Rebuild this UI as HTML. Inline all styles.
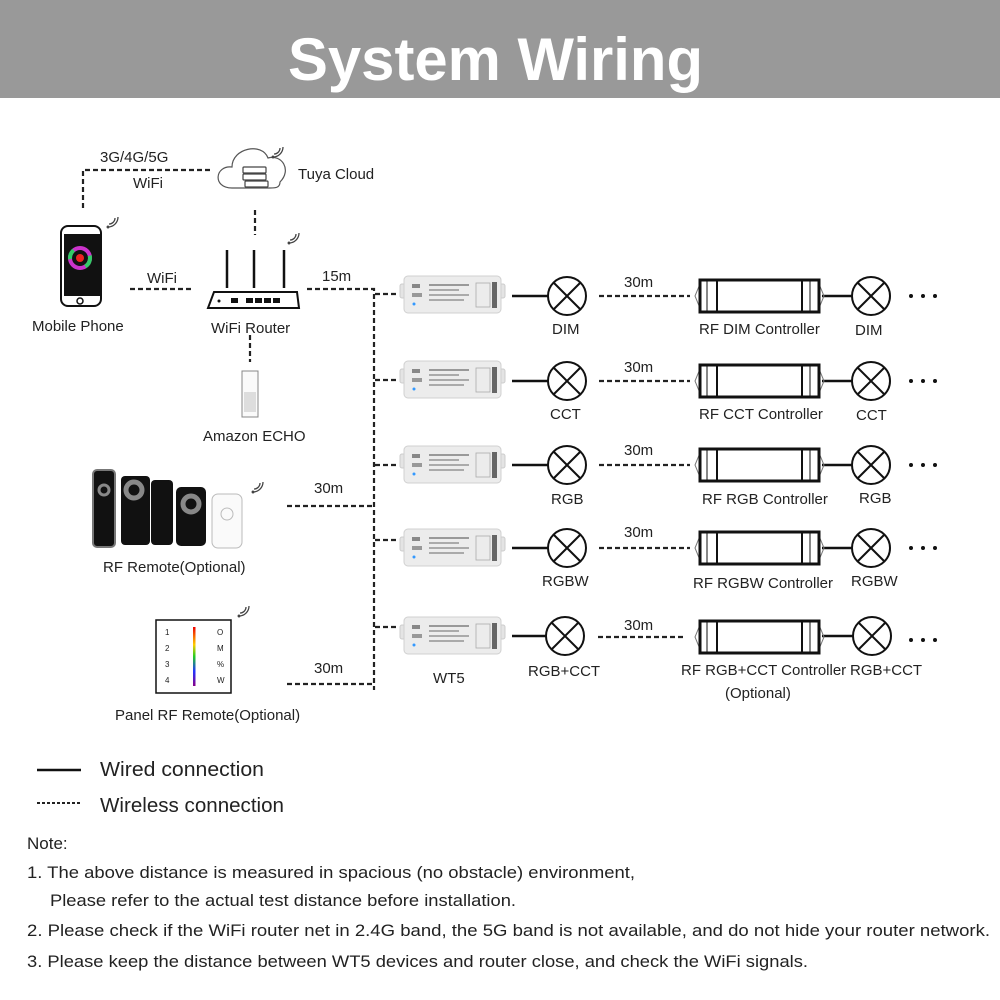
<!DOCTYPE html>
<html><head><meta charset="utf-8"><style>
html,body{margin:0;padding:0;background:#fff}
svg{display:block}
text{font-family:"Liberation Sans",sans-serif;fill:#222}
</style></head><body>
<svg width="1000" height="1000" viewBox="0 0 1000 1000" xmlns="http://www.w3.org/2000/svg">
<defs>
<g id="wt5">
 <rect x="-4" y="8" width="8" height="14" rx="2" fill="#e4e4e4" stroke="#ccc"/>
 <rect x="93" y="8" width="8" height="14" rx="2" fill="#e4e4e4" stroke="#ccc"/>
 <rect x="0" y="0" width="97" height="37" rx="4" fill="#ececec" stroke="#d0d0d0"/>
 <rect x="25" y="8" width="40" height="2" fill="#999"/>
 <rect x="25" y="13" width="30" height="2" fill="#aaa"/>
 <rect x="25" y="18" width="40" height="2" fill="#aaa"/>
 <rect x="25" y="23" width="35" height="2" fill="#aaa"/>
 <rect x="8" y="8" width="8" height="4" fill="#888"/>
 <rect x="8" y="17" width="10" height="4" fill="#999"/>
 <circle cx="10" cy="28" r="1.5" fill="#39f"/>
 <rect x="72" y="7" width="14" height="24" fill="none" stroke="#aaa" stroke-width="0.8"/>
 <rect x="88" y="6" width="5" height="26" fill="#666"/>
</g>
<g id="lamp" fill="none" stroke="#111" stroke-width="2">
 <circle cx="0" cy="0" r="19" fill="#fff"/>
 <line x1="-13" y1="-13" x2="13" y2="13"/><line x1="-13" y1="13" x2="13" y2="-13"/>
</g>
<g id="rfc" fill="none" stroke="#111">
 <path d="M5 0 H120 L127 17 L120 34 H5 L-2 17 Z" stroke-width="1" stroke="#777"/>
 <rect x="3" y="1" width="119" height="32" stroke-width="3"/>
 <line x1="20" y1="1" x2="20" y2="33" stroke-width="2"/>
 <line x1="105" y1="1" x2="105" y2="33" stroke-width="2"/>
 <line x1="10" y1="1" x2="10" y2="33" stroke-width="1"/>
 <line x1="113" y1="1" x2="113" y2="33" stroke-width="1"/>
</g>
<g id="dots" fill="#111"><circle cx="0" cy="0" r="2"/><circle cx="12" cy="0" r="2"/><circle cx="24" cy="0" r="2"/></g>
<g id="sig" fill="none" stroke="#444" stroke-width="1.3"><path d="M0 6 A6 6 0 0 0 6 0"/><path d="M-1 9 A10 10 0 0 0 9 -1"/><circle cx="-1" cy="9" r="0.8" fill="#444"/></g>
</defs>

<rect x="0" y="0" width="1000" height="98" fill="#999"/>
<text x="288" y="80" font-size="60" font-weight="bold" style="fill:#fff" textLength="415" lengthAdjust="spacingAndGlyphs">System Wiring</text>

<g stroke="#222" stroke-width="2.2" stroke-dasharray="5,3" fill="none">
 <path d="M83 208 V170 H212"/>
 <line x1="255" y1="210" x2="255" y2="235"/>
 <line x1="130" y1="289" x2="193" y2="289"/>
 <line x1="250" y1="335" x2="250" y2="362"/>
 <path d="M307 289 H374 V690"/>
 <line x1="375" y1="294" x2="398" y2="294"/>
 <line x1="375" y1="380" x2="398" y2="380"/>
 <line x1="375" y1="465" x2="398" y2="465"/>
 <line x1="375" y1="540" x2="398" y2="540"/>
 <line x1="375" y1="627" x2="398" y2="627"/>
 <line x1="287" y1="506" x2="374" y2="506"/>
 <line x1="287" y1="684" x2="374" y2="684"/>
</g>

<text x="100" y="162" font-size="15">3G/4G/5G</text>
<text x="133" y="188" font-size="15">WiFi</text>
<text x="298" y="179" font-size="15">Tuya Cloud</text>
<text x="147" y="283" font-size="15">WiFi</text>
<text x="322" y="281" font-size="15">15m</text>
<text x="32" y="331" font-size="15">Mobile Phone</text>
<text x="211" y="333" font-size="15">WiFi Router</text>
<text x="203" y="441" font-size="15">Amazon ECHO</text>
<text x="103" y="572" font-size="15">RF Remote(Optional)</text>
<text x="115" y="720" font-size="15">Panel RF Remote(Optional)</text>
<text x="314" y="493" font-size="15">30m</text>
<text x="314" y="673" font-size="15">30m</text>

<!-- cloud -->
<path d="M232 188 C212 188 215 165 232 167 C232 148 262 142 268 158 C282 154 292 170 280 182 C280 188 275 188 270 188 Z" fill="none" stroke="#555" stroke-width="1.2"/>
<g fill="#fff" stroke="#444" stroke-width="1.2">
<rect x="243" y="167" width="23" height="6" rx="1"/><rect x="243" y="174" width="23" height="6" rx="1"/><rect x="245" y="181" width="23" height="6" rx="1"/>
</g>
<use href="#sig" x="274" y="148"/>

<!-- phone -->
<rect x="61" y="226" width="40" height="80" rx="7" fill="#fff" stroke="#111" stroke-width="2"/>
<rect x="64" y="234" width="36" height="62" fill="#111"/>
<circle cx="80" cy="258" r="10" fill="none" stroke="#c3c" stroke-width="4"/>
<circle cx="80" cy="258" r="10" fill="none" stroke="#3c6" stroke-width="4" stroke-dasharray="10,20"/>
<circle cx="80" cy="258" r="4" fill="#e22"/>
<circle cx="80" cy="301" r="3" fill="none" stroke="#111" stroke-width="1.5"/>
<use href="#sig" x="109" y="218"/>

<!-- router -->
<g stroke="#111" stroke-width="2.5" fill="none">
 <line x1="227" y1="250" x2="227" y2="288"/><line x1="254" y1="250" x2="254" y2="288"/><line x1="284" y1="250" x2="284" y2="288"/>
</g>
<path d="M214 292 L297 292 L299 308 H208 Z" fill="#fff" stroke="#111" stroke-width="2"/>
<g fill="#111"><circle cx="219" cy="301" r="1.5"/><rect x="231" y="298" width="7" height="5"/><rect x="246" y="298" width="7" height="5"/><rect x="255" y="298" width="7" height="5"/><rect x="264" y="298" width="7" height="5"/><rect x="273" y="298" width="7" height="5"/></g>
<use href="#sig" x="290" y="234"/>

<!-- echo -->
<rect x="242" y="371" width="16" height="46" fill="#fafafa" stroke="#888"/>
<rect x="244" y="392" width="12" height="20" fill="#ddd"/>

<!-- remotes -->
<rect x="93" y="470" width="22" height="77" rx="4" fill="#111" stroke="#777" stroke-width="2"/>
<circle cx="104" cy="490" r="5" fill="none" stroke="#888" stroke-width="3"/>
<rect x="121" y="476" width="29" height="69" rx="4" fill="#111"/>
<circle cx="134" cy="490" r="8" fill="none" stroke="#888" stroke-width="5"/>
<rect x="151" y="480" width="22" height="65" rx="4" fill="#111"/>
<rect x="176" y="487" width="30" height="59" rx="5" fill="#111"/>
<circle cx="191" cy="504" r="8" fill="none" stroke="#888" stroke-width="5"/>
<rect x="212" y="494" width="30" height="54" rx="6" fill="#fafafa" stroke="#bbb"/>
<circle cx="227" cy="514" r="6" fill="none" stroke="#bbb"/>
<use href="#sig" x="254" y="483"/>
<rect x="156" y="620" width="75" height="73" fill="#fff" stroke="#111" stroke-width="1.5"/>
<defs><linearGradient id="rb" x1="0" y1="0" x2="0" y2="1"><stop offset="0" stop-color="#e00"/><stop offset=".3" stop-color="#fc0"/><stop offset=".5" stop-color="#2c2"/><stop offset=".75" stop-color="#23f"/><stop offset="1" stop-color="#808"/></linearGradient></defs>
<rect x="193" y="627" width="2.5" height="59" fill="url(#rb)"/>
<g font-size="8"><text x="165" y="635">1</text><text x="165" y="651">2</text><text x="165" y="667">3</text><text x="165" y="683">4</text>
<text x="217" y="635">O</text><text x="217" y="651">M</text><text x="217" y="667">%</text><text x="217" y="683">W</text></g>
<use href="#sig" x="240" y="607"/>

<!-- rows -->
<g id="rows">
<use href="#wt5" x="404" y="276"/><use href="#wt5" x="404" y="361"/><use href="#wt5" x="404" y="446"/><use href="#wt5" x="404" y="529"/><use href="#wt5" x="404" y="617"/>
<g stroke="#111" stroke-width="2.5">
<line x1="512" y1="296" x2="548" y2="296"/><line x1="512" y1="381" x2="548" y2="381"/><line x1="512" y1="465" x2="548" y2="465"/><line x1="512" y1="548" x2="548" y2="548"/><line x1="512" y1="636" x2="546" y2="636"/>
<line x1="822" y1="296" x2="852" y2="296"/><line x1="822" y1="381" x2="852" y2="381"/><line x1="822" y1="465" x2="852" y2="465"/><line x1="822" y1="548" x2="852" y2="548"/><line x1="822" y1="636" x2="853" y2="636"/>
</g>
<g stroke="#222" stroke-width="2.2" stroke-dasharray="5,3">
<line x1="599" y1="296" x2="690" y2="296"/><line x1="599" y1="381" x2="690" y2="381"/><line x1="599" y1="465" x2="690" y2="465"/><line x1="599" y1="548" x2="690" y2="548"/><line x1="598" y1="637" x2="685" y2="637"/>
</g>
<use href="#lamp" x="567" y="296"/><use href="#lamp" x="567" y="381"/><use href="#lamp" x="567" y="465"/><use href="#lamp" x="567" y="548"/><use href="#lamp" x="565" y="636"/>
<use href="#rfc" x="697" y="279"/><use href="#rfc" x="697" y="364"/><use href="#rfc" x="697" y="448"/><use href="#rfc" x="697" y="531"/><use href="#rfc" x="697" y="620"/>
<use href="#lamp" x="871" y="296"/><use href="#lamp" x="871" y="381"/><use href="#lamp" x="871" y="465"/><use href="#lamp" x="871" y="548"/><use href="#lamp" x="872" y="636"/>
<use href="#dots" x="911" y="296"/><use href="#dots" x="911" y="381"/><use href="#dots" x="911" y="465"/><use href="#dots" x="911" y="548"/><use href="#dots" x="911" y="640"/>
</g>
<g font-size="15">
<text x="624" y="287">30m</text><text x="624" y="372">30m</text><text x="624" y="455">30m</text><text x="624" y="537">30m</text><text x="624" y="630">30m</text>
<text x="552" y="334">DIM</text><text x="550" y="419">CCT</text><text x="551" y="504">RGB</text><text x="542" y="586">RGBW</text><text x="528" y="676">RGB+CCT</text>
<text x="433" y="683">WT5</text>
<text x="699" y="334">RF DIM Controller</text><text x="699" y="419">RF CCT Controller</text><text x="702" y="504">RF RGB Controller</text><text x="693" y="588">RF RGBW Controller</text><text x="681" y="675">RF RGB+CCT Controller</text><text x="725" y="698">(Optional)</text>
<text x="855" y="335">DIM</text><text x="856" y="420">CCT</text><text x="859" y="503">RGB</text><text x="851" y="586">RGBW</text><text x="850" y="675">RGB+CCT</text>
</g>

<!-- legend -->
<line x1="37" y1="770" x2="81" y2="770" stroke="#111" stroke-width="2.5"/>
<line x1="37" y1="803" x2="81" y2="803" stroke="#222" stroke-width="2" stroke-dasharray="3,2"/>
<text x="100" y="776" font-size="20" textLength="164" lengthAdjust="spacingAndGlyphs">Wired connection</text>
<text x="100" y="812" font-size="20" textLength="184" lengthAdjust="spacingAndGlyphs">Wireless connection</text>

<g font-size="17">
<text x="27" y="849">Note:</text>
<text x="27" y="878" textLength="608" lengthAdjust="spacingAndGlyphs">1. The above distance is measured in spacious (no obstacle) environment,</text>
<text x="50" y="906" textLength="466" lengthAdjust="spacingAndGlyphs">Please refer to the actual test distance before installation.</text>
<text x="27" y="936" textLength="963" lengthAdjust="spacingAndGlyphs">2. Please check if the WiFi router net in 2.4G band, the 5G band is not available, and do not hide your router network.</text>
<text x="27" y="967" textLength="781" lengthAdjust="spacingAndGlyphs">3. Please keep the distance between WT5 devices and router close, and check the WiFi signals.</text>
</g>
</svg>
</body></html>
